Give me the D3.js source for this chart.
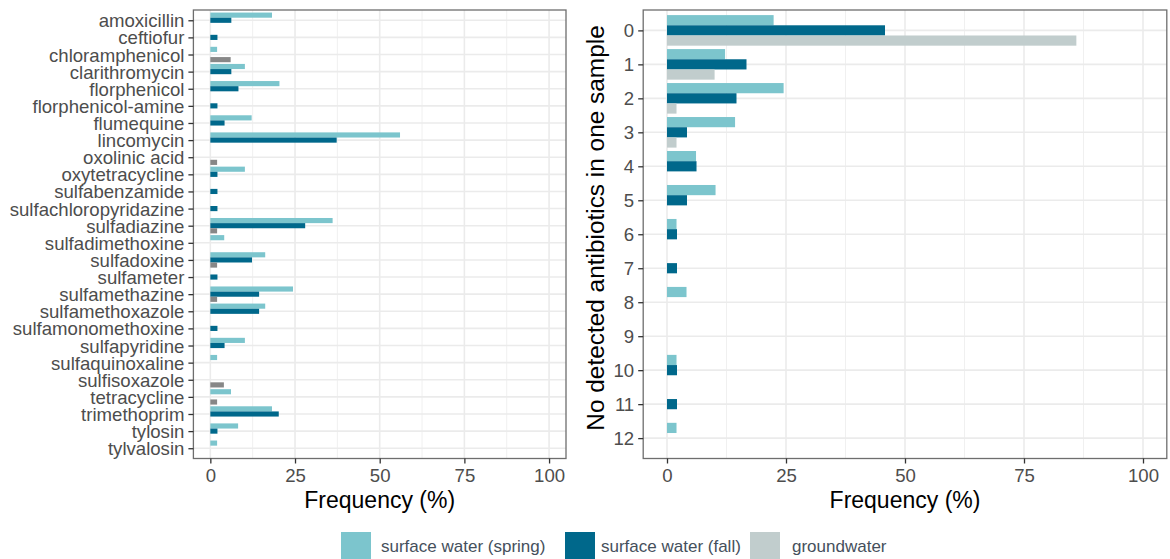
<!DOCTYPE html>
<html><head><meta charset="utf-8">
<script src="https://cdn.jsdelivr.net/npm/d3@7"></script>
<style>
body{margin:0;background:#fff}
svg{display:block}
text{font-family:"Liberation Sans",Arial,Helvetica,sans-serif}
</style>
</head><body>
<svg id="chart" width="1170" height="559"></svg>
<script>
// ---------- data ----------
const antibiotics = ["amoxicillin","ceftiofur","chloramphenicol","clarithromycin","florphenicol",
  "florphenicol-amine","flumequine","lincomycin","oxolinic acid","oxytetracycline","sulfabenzamide",
  "sulfachloropyridazine","sulfadiazine","sulfadimethoxine","sulfadoxine","sulfameter","sulfamethazine",
  "sulfamethoxazole","sulfamonomethoxine","sulfapyridine","sulfaquinoxaline","sulfisoxazole",
  "tetracycline","trimethoprim","tylosin","tylvalosin"];
const abSpring = [18.2,0,2.0,10.2,20.4,0,12.2,56.0,0,10.2,0,0,36.1,4.1,16.2,0,24.4,16.2,0,10.2,2.0,0,6.1,18.2,8.2,2.0];
const abFall   = [6.2,2.1,0,6.2,8.3,2.1,4.2,37.3,0,2.1,2.1,2.1,28.0,0,12.3,2.1,14.4,14.4,2.1,4.2,0,0,0,20.2,2.1,0];
const abGround = [0,0,6.0,0,0,0,0,0,2.0,0,0,0,2.0,0,2.0,0,2.0,0,0,0,0,4.0,2.0,0,0,0];

const detectCounts = ["0","1","2","3","4","5","6","7","8","9","10","11","12"];
const cntSpring = [22.4,12.2,24.5,14.3,6.1,10.2,2.0,0,4.1,0,2.0,0,2.0];
const cntFall   = [45.8,16.7,14.6,4.2,6.2,4.2,2.1,2.1,0,0,2.1,2.1,0];
const cntGround = [86.0,10.0,2.0,2.0,0,0,0,0,0,0,0,0,0];

const xTicks = [0,25,50,75,100];
const xMinor = [12.5,37.5,62.5,87.5];
const groups = ["surface water (spring)","surface water (fall)","groundwater"];
const colSpring = "#7cc5cd", colFall = "#00688b", colGround = "#c1cdcd", colGroundLeft = "#878787";

const xTitle = "Frequency (%)";
const yTitleRight = "No detected antibiotics in one sample";

// ---------- drawing ----------
const svg = d3.select("#chart");
const TICK_FONT = 18.6, TITLE_FONT = 23;

function panel(o){
  const g = svg.append("g");
  const x = d3.scaleLinear().domain([-5,105]).range([o.x0,o.x1]);
  const y = d3.scalePoint().domain(o.cats).range([o.y0,o.y1]).padding(0.6);
  const step = y.step();
  const sub = d3.scaleBand().domain([0,1,2]).range([-0.45*step,0.45*step]);

  g.append("rect").attr("x",o.x0).attr("y",o.y0).attr("width",o.x1-o.x0).attr("height",o.y1-o.y0).attr("fill","#fff");
  g.selectAll(".minor").data(xMinor).join("line")
    .attr("x1",d=>x(d)).attr("x2",d=>x(d)).attr("y1",o.y0).attr("y2",o.y1)
    .attr("stroke","#f0f0f0").attr("stroke-width",1);
  g.selectAll(".majx").data(xTicks).join("line")
    .attr("x1",d=>x(d)).attr("x2",d=>x(d)).attr("y1",o.y0).attr("y2",o.y1)
    .attr("stroke","#ebebeb").attr("stroke-width",1.6);
  g.selectAll(".majy").data(o.cats).join("line")
    .attr("x1",o.x0).attr("x2",o.x1).attr("y1",d=>y(d)).attr("y2",d=>y(d))
    .attr("stroke","#ebebeb").attr("stroke-width",1.6);

  const rows = [];
  o.series.forEach((s,si)=>{
    s.values.forEach((v,i)=>{ if(v>0) rows.push({cat:o.cats[i],v,si,color:s.color}); });
  });
  g.selectAll(".bar").data(rows).join("rect")
    .attr("x",x(0)).attr("y",d=>y(d.cat)+sub(d.si))
    .attr("width",d=>x(d.v)-x(0)).attr("height",sub.bandwidth())
    .attr("fill",d=>d.color);

  g.append("rect").attr("x",o.x0).attr("y",o.y0).attr("width",o.x1-o.x0).attr("height",o.y1-o.y0)
    .attr("fill","none").attr("stroke","#6e6e6e").attr("stroke-width",1.3);

  const ax = g.append("g").attr("transform",`translate(0,${o.y1})`)
    .call(d3.axisBottom(x).tickValues(xTicks).tickSize(5).tickPadding(5).tickFormat(d3.format("d")));
  const ay = g.append("g").attr("transform",`translate(${o.x0},0)`)
    .call(d3.axisLeft(y).tickSize(5).tickPadding(4));
  [ax,ay].forEach(a=>{
    a.select(".domain").remove();
    a.selectAll("line").attr("stroke","#333").attr("stroke-width",1.3);
    a.selectAll("text").attr("fill","#4d4d4d").style("font-size",TICK_FONT+"px");
  });
  ay.selectAll("text").attr("dy","0.35em");

  g.append("text").attr("x",(o.x0+o.x1)/2).attr("y",508).attr("text-anchor","middle")
    .style("font-size",TITLE_FONT+"px").attr("fill","#000").text(xTitle);
  return {x,y};
}

panel({x0:193.4,x1:566,y0:10,y1:458.5,cats:antibiotics,
  series:[{values:abSpring,color:colSpring},{values:abFall,color:colFall},{values:abGround,color:colGroundLeft}]});
panel({x0:643.2,x1:1166.8,y0:10,y1:458.5,cats:detectCounts,
  series:[{values:cntSpring,color:colSpring},{values:cntFall,color:colFall},{values:cntGround,color:colGround}]});

svg.append("text").attr("transform","translate(604,228) rotate(-90)")
  .attr("text-anchor","middle").style("font-size","24.4px").attr("fill","#000").text(yTitleRight);

// legend
const legendCols = [colSpring,colFall,colGround];
const keyX = [341,565,750];
const textX = [381,601,792];
const lg = svg.append("g");
groups.forEach((name,i)=>{
  lg.append("rect").attr("x",keyX[i]).attr("y",532).attr("width",30).attr("height",30).attr("fill",legendCols[i]);
  lg.append("text").attr("x",textX[i]).attr("y",552).style("font-size","17px").attr("fill","#45505c").text(name);
});
</script>
</body></html>
